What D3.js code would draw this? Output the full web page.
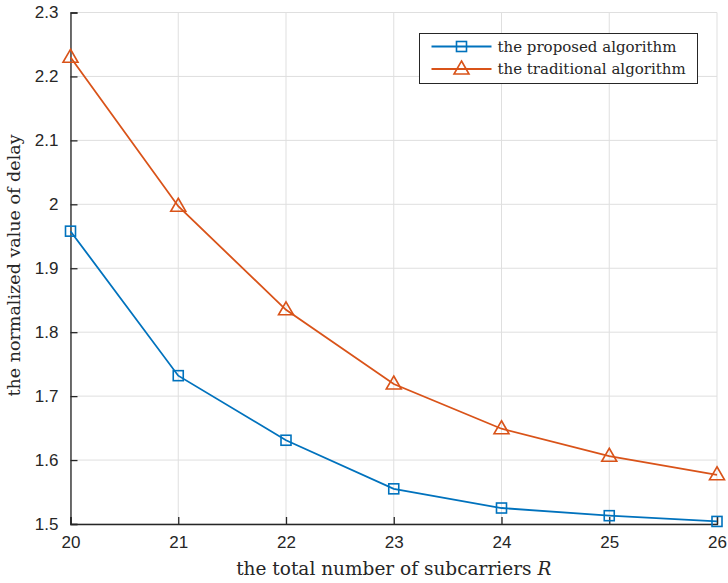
<!DOCTYPE html>
<html>
<head>
<meta charset="utf-8">
<script src="https://cdn.jsdelivr.net/npm/d3@7"></script>
<style>
  body { margin: 0; background: #fff; }
  svg { display: block; }
  .tick text { font-family: "Liberation Sans", Arial, sans-serif; font-size: 17px; fill: #262626; }
  .lbl { font-family: "DejaVu Serif", "Liberation Serif", serif; fill: #262626; }
</style>
</head>
<body>
<script>
const subcarriers = [20, 21, 22, 23, 24, 25, 26];
const proposed = [1.958, 1.732, 1.631, 1.555, 1.525, 1.513, 1.504];
const traditional = [2.230, 1.997, 1.835, 1.719, 1.649, 1.606, 1.577];
const yTicks = [1.5, 1.6, 1.7, 1.8, 1.9, 2, 2.1, 2.2, 2.3];

const W = 728, H = 583;
const m = { left: 70.5, right: 11, top: 12.5, bottom: 59 };

const svg = d3.select('body')
  .append('svg')
  .attr('width', W)
  .attr('height', H);

const xscale = d3.scaleLinear().domain([20, 26]).range([m.left, W - m.right]);
const yscale = d3.scaleLinear().domain([1.5, 2.3]).range([H - m.bottom, m.top]);

// grid
svg.append('g')
  .selectAll('line')
  .data(subcarriers)
  .enter()
  .append('line')
  .attr('x1', d => xscale(d)).attr('x2', d => xscale(d))
  .attr('y1', m.top).attr('y2', H - m.bottom)
  .attr('stroke', '#dfdfdf').attr('stroke-width', 1);
svg.append('g')
  .selectAll('line')
  .data(yTicks)
  .enter()
  .append('line')
  .attr('x1', m.left).attr('x2', W - m.right)
  .attr('y1', d => yscale(d)).attr('y2', d => yscale(d))
  .attr('stroke', '#dfdfdf').attr('stroke-width', 1);

const xaxis = d3.axisBottom(xscale).tickValues(subcarriers).tickSize(-7).tickPadding(12).tickFormat(d3.format('d'));
const yaxis = d3.axisLeft(yscale).tickValues(yTicks).tickSize(-7).tickPadding(12).tickFormat(d => d === 2 ? '2' : d3.format('.1f')(d));

const gx = svg.append('g')
  .attr('transform', `translate(0, ${H - m.bottom})`)
  .call(xaxis);
const gy = svg.append('g')
  .attr('transform', `translate(${m.left}, 0)`)
  .call(yaxis);
[gx, gy].forEach(g => {
  g.select('.domain').attr('stroke', '#262626').attr('stroke-width', 1.3);
  g.selectAll('.tick line').attr('stroke', '#262626').attr('stroke-width', 1.3);
});
gx.selectAll('.tick text').attr('dy', '0.71em');

const series = [
  { name: 'the proposed algorithm', vals: proposed, color: '#0072BD', marker: 'square' },
  { name: 'the traditional algorithm', vals: traditional, color: '#D95319', marker: 'triangle' }
];

function drawMarker(g, type, color) {
  if (type === 'square') {
    g.append('rect').attr('x', -5).attr('y', -5).attr('width', 10).attr('height', 10)
      .attr('fill', 'none').attr('stroke', color).attr('stroke-width', 1.6);
  } else {
    g.append('path').attr('d', 'M0,-8 L7.5,5 L-7.5,5 Z')
      .attr('fill', 'none').attr('stroke', color).attr('stroke-width', 1.6);
  }
}

const line = d3.line().x((d, i) => xscale(subcarriers[i])).y(d => yscale(d));

series.forEach(s => {
  svg.append('path')
    .datum(s.vals)
    .attr('d', line)
    .attr('fill', 'none')
    .attr('stroke', s.color)
    .attr('stroke-width', 1.8);
  svg.selectAll('.pt-' + s.marker)
    .data(s.vals)
    .enter()
    .append('g')
    .attr('class', 'pt-' + s.marker)
    .attr('transform', (d, i) => `translate(${xscale(subcarriers[i])}, ${yscale(d)})`)
    .each(function () { drawMarker(d3.select(this), s.marker, s.color); });
});

// legend
const lg = svg.append('g').attr('transform', 'translate(419.5, 33.5)');
lg.append('rect').attr('width', 278).attr('height', 50)
  .attr('fill', '#fff').attr('stroke', '#262626').attr('stroke-width', 1);
series.forEach((s, i) => {
  const y = 13 + i * 22.5;
  lg.append('line').attr('x1', 12).attr('x2', 72).attr('y1', y).attr('y2', y)
    .attr('stroke', s.color).attr('stroke-width', 1.8);
  drawMarker(lg.append('g').attr('transform', `translate(42, ${y})`), s.marker, s.color);
  lg.append('text').attr('class', 'lbl')
    .attr('x', 78).attr('y', y + 5)
    .attr('font-size', 15)
    .text(s.name);
});

// axis labels
svg.append('text').attr('class', 'lbl')
  .attr('x', (m.left + W - m.right) / 2).attr('y', 575)
  .attr('text-anchor', 'middle').attr('font-size', 18.5)
  .html('the total number of subcarriers <tspan font-style="italic">R</tspan>');
svg.append('text').attr('class', 'lbl')
  .attr('transform', 'translate(20, 265.5) rotate(-90)')
  .attr('text-anchor', 'middle').attr('font-size', 17.5)
  .text('the normalized value of delay');
</script>
</body>
</html>
